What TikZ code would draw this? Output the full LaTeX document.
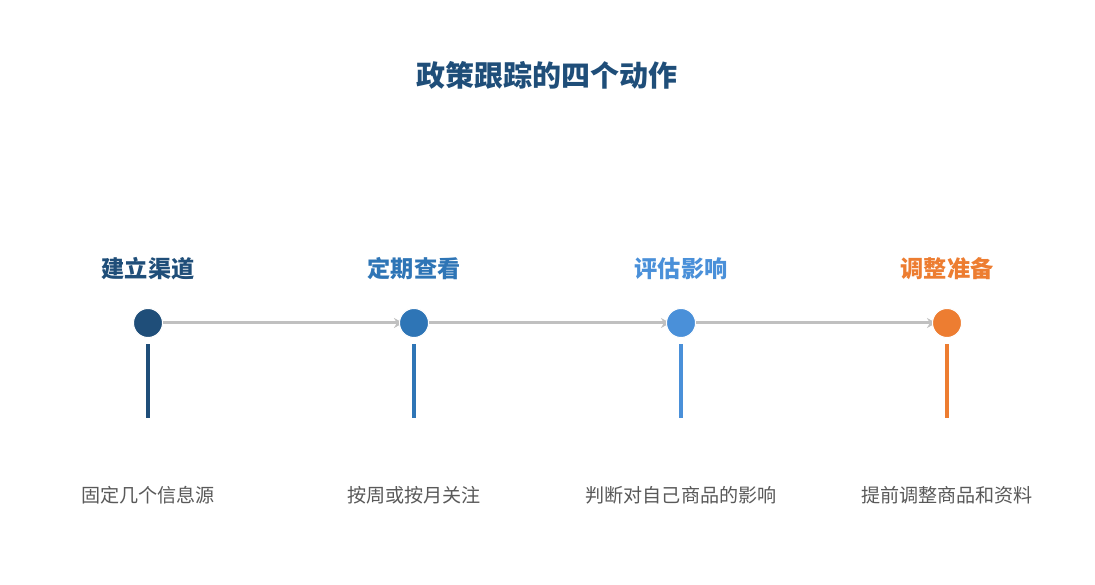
\documentclass[tikz,border=0pt]{standalone}
\usepackage{fontspec}
\setmainfont{Noto Sans CJK SC}
\usetikzlibrary{arrows.meta}
\definecolor{c1}{HTML}{1F4E79}
\definecolor{c2}{HTML}{2E75B6}
\definecolor{c3}{HTML}{4A90D9}
\definecolor{c4}{HTML}{ED7D31}
\definecolor{linegray}{HTML}{C0C0C0}
\definecolor{textgray}{HTML}{595959}
\begin{document}
\begin{tikzpicture}[x=1pt,y=-1pt,
  dot/.style={circle,minimum size=29pt,inner sep=0pt,draw=white,line width=1pt},
  steplabel/.style={font=\fontsize{23.2}{26}\selectfont\bfseries},
  desc/.style={font=\fontsize{19.1}{22}\selectfont,text=textgray},
  stem/.style={line width=3.5pt},
  link/.style={draw=linegray,line width=3pt,-{Stealth[length=9pt,width=10pt]}}]
\useasboundingbox (0,0) rectangle (1095,585);
\fill[white] (0,0) rectangle (1095,585);
\node[font=\fontsize{29}{33}\selectfont\bfseries,text=c1] (title) at (547,75) {政策跟踪的四个动作};
\coordinate (p1) at (148,323);
\coordinate (p2) at (414,323);
\coordinate (p3) at (681,323);
\coordinate (p4) at (947,323);
\draw[link] (p1) -- ([xshift=-11pt]p2);
\draw[link] (p2) -- ([xshift=-11pt]p3);
\draw[link] (p3) -- ([xshift=-11pt]p4);
\node[dot,fill=c1] (d1) at (p1) {};
\node[dot,fill=c2] (d2) at (p2) {};
\node[dot,fill=c3] (d3) at (p3) {};
\node[dot,fill=c4] (d4) at (p4) {};
\node[steplabel,text=c1] (l1) at (148,269) {建立渠道};
\node[steplabel,text=c2] (l2) at (414,269) {定期查看};
\node[steplabel,text=c3] (l3) at (681,269) {评估影响};
\node[steplabel,text=c4] (l4) at (947,269) {调整准备};
\coordinate (s1) at (148,418);
\coordinate (s2) at (414,418);
\coordinate (s3) at (681,418);
\coordinate (s4) at (947,418);
\draw[stem,draw=c1] ([yshift=-6pt]d1.south) -- (s1);
\draw[stem,draw=c2] ([yshift=-6pt]d2.south) -- (s2);
\draw[stem,draw=c3] ([yshift=-6pt]d3.south) -- (s3);
\draw[stem,draw=c4] ([yshift=-6pt]d4.south) -- (s4);
\node[desc] (t1) at (148,495) {固定几个信息源};
\node[desc] (t2) at (414,495) {按周或按月关注};
\node[desc] (t3) at (681,495) {判断对自己商品的影响};
\node[desc] (t4) at (947,495) {提前调整商品和资料};
\end{tikzpicture}
\end{document}
